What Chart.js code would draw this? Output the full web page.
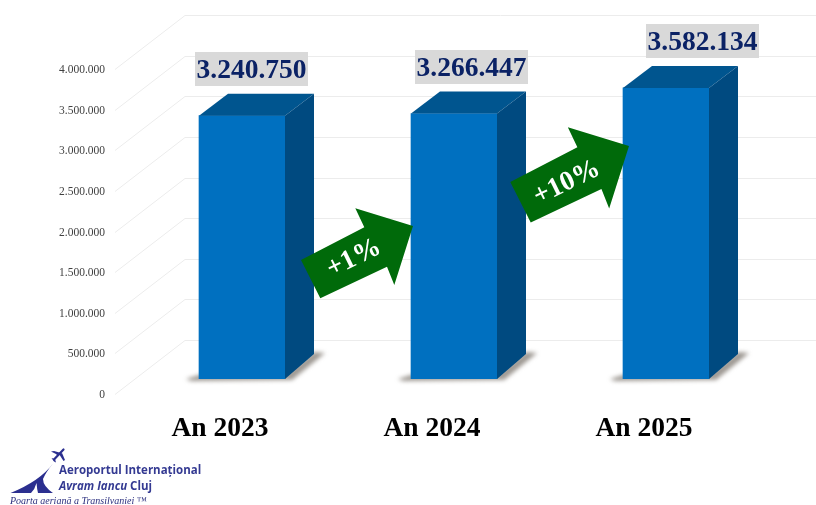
<!DOCTYPE html>
<html>
<head>
<meta charset="utf-8">
<style>html,body{margin:0;padding:0;background:#fff}canvas{display:block}</style>
<script src="https://cdn.jsdelivr.net/npm/chart.js@4/dist/chart.umd.min.js"></script>
</head>
<body>
<canvas id="c" width="816" height="505"></canvas>
<script>
const categories = ["An 2023", "An 2024", "An 2025"];
const passengers = [3240750, 3266447, 3582134];
const changeLabels = ["+1%", "+10%"];
const changeLevels = [1883000, 2868000];

const SERIF = '"Liberation Serif", serif';
const fmt = v => String(v).replace(/\B(?=(\d{3})+$)/g, ".");
const DEPTH = {dx: 29, dyTop: 22, dyBottom: 25};
const WALL = {dx: 70, dy: 54, front: 15, back: 39};
const LABEL_BOX = [{dx: -4, y: 52}, {dx: 4, y: 50}, {dx: 23, y: 24}];
const ARROW = [{dx: 2, s: 1, tx: -59.5, ty: 31.5}, {dx: 6, s: 1.06, tx: -62.5, ty: 36}];
const ARROW_SHAPE = [[-112,34],[-92.7,72.3],[-26,40.7],[-18.7,59],[0,0],[-57.7,-17.7],[-48.7,1.3]];

function poly(ctx, pts, fill) {
  ctx.beginPath();
  pts.forEach((p, i) => i ? ctx.lineTo(p[0], p[1]) : ctx.moveTo(p[0], p[1]));
  ctx.closePath();
  ctx.fillStyle = fill;
  ctx.fill();
}

const wall = {
  id: "wall",
  beforeDatasetsDraw(chart) {
    const {ctx, scales: {y}} = chart;
    ctx.save();
    ctx.strokeStyle = "#ececec";
    ctx.lineWidth = 1;
    y.ticks.forEach(t => {
      const py = Math.round(y.getPixelForValue(t.value));
      const by = py - WALL.back + 0.5;
      ctx.beginPath();
      ctx.moveTo(115, by + WALL.dy);
      ctx.lineTo(115 + WALL.dx, by);
      ctx.lineTo(816, by);
      ctx.stroke();
    });
    // floor shadows
    chart.getDatasetMeta(0).data.forEach(b => {
      const l = b.x - b.width / 2, r = b.x + b.width / 2, base = b.base;
      ctx.save();
      ctx.filter = "blur(2px)";
      poly(ctx, [[l - 13, base], [l, base - 4], [r, base - 4], [r + DEPTH.dx, base - 27],
                 [r + DEPTH.dx + 11, base - 26], [r + 7, base + 1], [l - 8, base + 2]], "rgba(115,108,100,0.7)");
      ctx.restore();
    });
    ctx.restore();
  },
  afterDatasetsDraw(chart) {
    const {ctx, scales: {x, y}} = chart;
    ctx.save();
    const bars = chart.getDatasetMeta(0).data;
    bars.forEach(b => {
      const l = b.x - b.width / 2, r = b.x + b.width / 2, t = b.y, base = b.base;
      poly(ctx, [[l, t], [l + DEPTH.dx, t - DEPTH.dyTop], [r + DEPTH.dx, t - DEPTH.dyTop], [r, t]], "#00558f");
      poly(ctx, [[r, t], [r + DEPTH.dx, t - DEPTH.dyTop], [r + DEPTH.dx, base - DEPTH.dyBottom], [r, base]], "#004a80");
    });
    // value labels
    bars.forEach((b, i) => {
      const o = LABEL_BOX[i], l = b.x - b.width / 2 + o.dx;
      ctx.fillStyle = "#d9d9d9";
      ctx.fillRect(l, o.y, 113, 34);
      ctx.fillStyle = "#0b2265";
      ctx.font = "bold 27.5px " + SERIF;
      ctx.textAlign = "center";
      ctx.textBaseline = "middle";
      ctx.fillText(fmt(passengers[i]), l + 56.5, o.y + 18.5);
    });
    // growth arrows
    changeLabels.forEach((txt, i) => {
      const a = ARROW[i], next = bars[i + 1];
      const tipX = next.x - next.width / 2 + a.dx, tipY = y.getPixelForValue(changeLevels[i]);
      poly(ctx, ARROW_SHAPE.map(p => [tipX + p[0] * a.s, tipY + p[1] * a.s]), "#006a0a");
      ctx.save();
      ctx.translate(tipX + a.tx, tipY + a.ty);
      ctx.rotate(-26 * Math.PI / 180);
      ctx.fillStyle = "#fff";
      ctx.font = "bold 27.5px " + SERIF;
      ctx.textAlign = "center";
      ctx.textBaseline = "middle";
      ctx.fillText(txt, 0, 1);
      ctx.restore();
    });
    // airport logo
    ctx.fillStyle = "#2b2f8f";
    ctx.beginPath();
    ctx.moveTo(53, 463.5);
    ctx.quadraticCurveTo(40, 481, 10.5, 493);
    ctx.lineTo(31, 493);
    ctx.quadraticCurveTo(35, 489, 36.5, 483);
    ctx.quadraticCurveTo(37, 489, 38, 493);
    ctx.lineTo(53, 493);
    ctx.quadraticCurveTo(43, 486, 43, 479);
    ctx.quadraticCurveTo(46, 472, 53, 463.5);
    ctx.closePath();
    ctx.fill();
    // plane
    ctx.strokeStyle = "#2b2f8f";
    ctx.lineCap = "round";
    ctx.lineWidth = 2.2;
    ctx.beginPath(); ctx.moveTo(54, 459.5); ctx.lineTo(63.5, 449.5); ctx.stroke();
    poly(ctx, [[51, 451.5], [54, 451], [61, 453], [58, 456], [56, 454]], "#2b2f8f");
    poly(ctx, [[59, 454], [62, 453], [65, 460], [63.5, 461]], "#2b2f8f");
    poly(ctx, [[51.5, 458], [55, 459], [56, 462.5], [54, 461.5]], "#2b2f8f");
    ctx.textBaseline = "alphabetic";
    ctx.textAlign = "left";
    ctx.font = '700 11.5px "Open Sans", sans-serif';
    ctx.fillStyle = "#343a92";
    ctx.fillText("Aeroportul Internațional", 59, 474);
    ctx.font = 'italic 700 11.5px "Open Sans", sans-serif';
    ctx.fillText("Avram Iancu", 59, 490);
    const w = ctx.measureText("Avram Iancu ").width;
    ctx.font = '700 11.5px "Open Sans", sans-serif';
    ctx.fillText("Cluj", 59 + w, 490);
    ctx.font = "italic 10px " + SERIF;
    ctx.fillStyle = "#2b2f7f";
    ctx.fillText("Poarta aeriană a Transilvaniei ™", 10, 503.5);
    ctx.restore();
  }
};

new Chart(document.getElementById("c"), {
  type: "bar",
  data: {
    labels: categories,
    datasets: [{data: passengers, backgroundColor: "#0070c0", borderWidth: 0, barThickness: 86}]
  },
  options: {
    responsive: false,
    animation: false,
    layout: {padding: {top: 54, right: 44, left: 0, bottom: 0}},
    plugins: {legend: {display: false}, tooltip: {enabled: false}},
    scales: {
      x: {
        grid: {display: false, drawTicks: false},
        border: {display: false},
        ticks: {
          color: "#000", padding: 33, labelOffset: -22, maxRotation: 0,
          font: {family: SERIF, size: 27.5, weight: "bold"}
        },
        afterFit(s) { s.height = 126; }
      },
      y: {
        min: 0, max: 4000000,
        grid: {display: false, drawTicks: false},
        border: {display: false},
        ticks: {
          stepSize: 500000, color: "#404040", padding: 31, labelOffset: 16,
          font: {family: SERIF, size: 11.5},
          callback: v => fmt(v)
        },
        afterFit(s) { s.width = 136; }
      }
    }
  },
  plugins: [wall]
});
</script>
</body>
</html>
